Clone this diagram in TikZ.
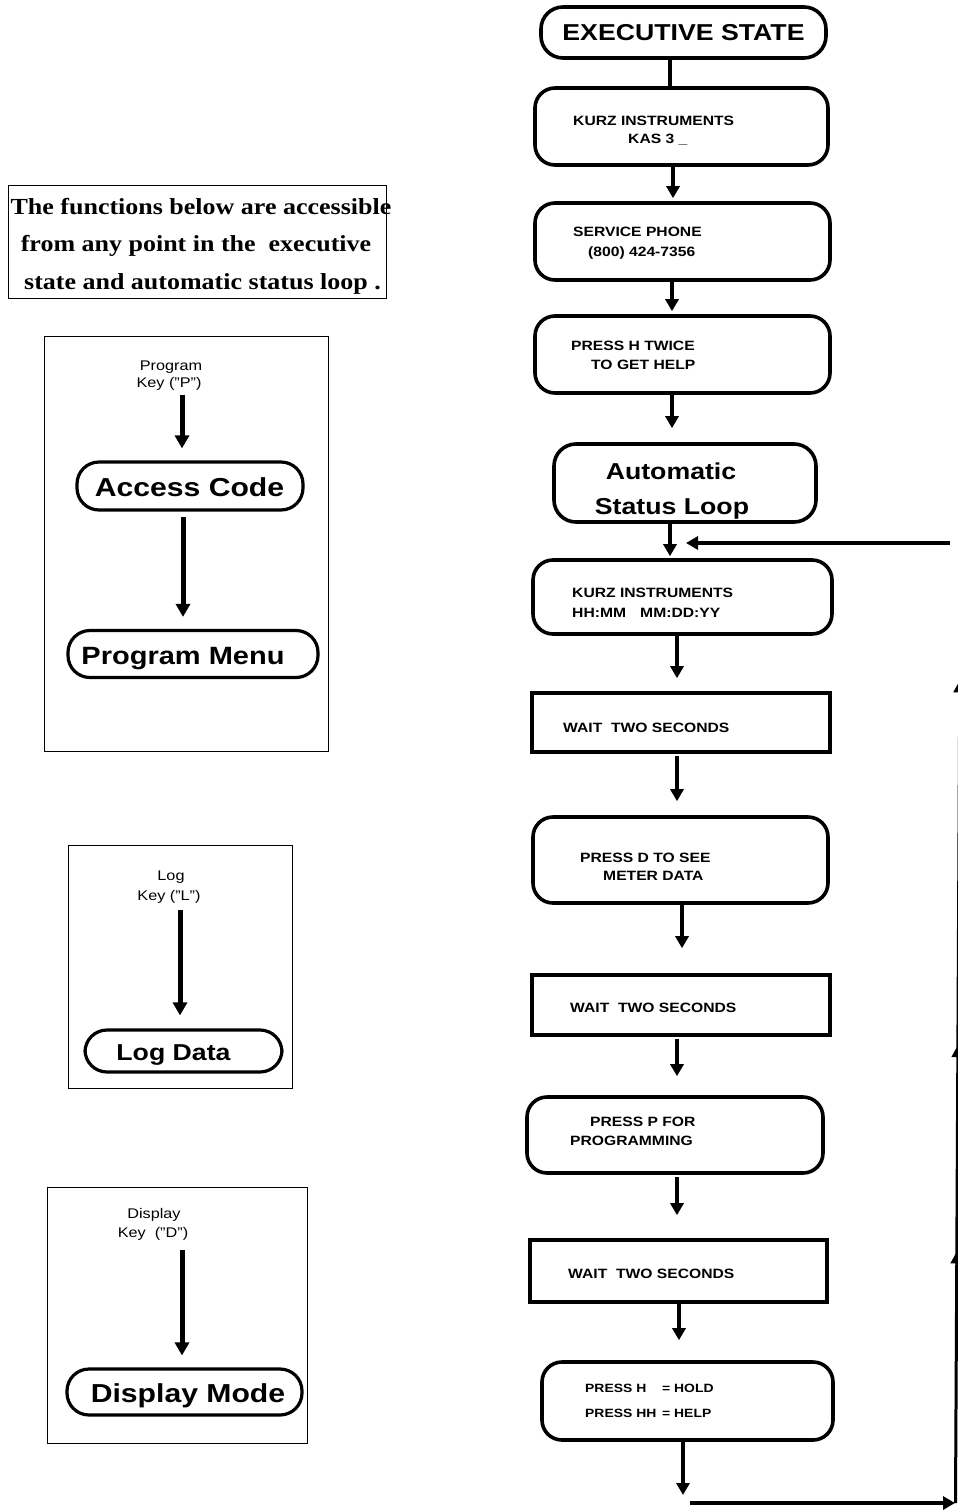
\documentclass[tikz,border=0pt]{standalone}
\usepackage{fontspec}
\setmainfont{Liberation Sans}[FakeStretch=1.16]
\newfontfamily\headfont{Liberation Serif}[FakeStretch=1.13]
\usetikzlibrary{arrows.meta,decorations.markings}
\begin{document}
\begin{tikzpicture}[x=1pt,y=-1pt,
  ovalbox/.style={draw,line width=3.6pt,rounded corners=22pt,inner sep=0pt},
  rbox/.style={draw,line width=3.6pt,rounded corners=20pt,inner sep=0pt},
  sbox/.style={draw,line width=3.6pt,inner sep=0pt},
  pill/.style={draw,line width=3.2pt,rounded corners=22pt,inner sep=0pt},
  frame/.style={draw,line width=0.8pt,inner sep=0pt},
  sm/.style={inner sep=0pt,anchor=base west,font=\fontsize{13.5}{16}\selectfont\bfseries},
  smh/.style={inner sep=0pt,anchor=base west,font=\fontsize{12}{15}\selectfont\bfseries},
  big/.style={inner sep=0pt,anchor=base,font=\fontsize{23}{26}\selectfont\bfseries},
  keylbl/.style={inner sep=0pt,anchor=base,font=\fontsize{14}{16}\selectfont},
  head/.style={inner sep=0pt,anchor=base,font=\headfont\fontsize{23}{26}\selectfont\bfseries},
  conn/.style={line width=4.5pt},
  arr/.style={line width=4.5pt,-{Triangle[width=13pt,length=12pt]}},
  larr/.style={line width=5pt,-{Triangle[width=14pt,length=13pt]}},
  loopline/.style={line width=3pt},
]
\useasboundingbox (0,0) rectangle (958,1510);

% ---------------- main column ----------------
\node[ovalbox,minimum width=285pt,minimum height=51pt,
      font=\fontsize{23}{26}\selectfont\bfseries] (exec) at (683.5,32.5) {EXECUTIVE STATE};

\node[rbox,minimum width=293pt,minimum height=77pt] (k1) at (681.5,126.5) {};
\node[sm] (k1a) at (573,125) {KURZ INSTRUMENTS};
\node[sm] (k1b) at (628,143) {KAS 3 \_};

\node[rbox,minimum width=295pt,minimum height=77pt] (svc) at (682.5,241.5) {};
\node[sm] (svca) at (573,236) {SERVICE PHONE};
\node[sm] (svcb) at (588,256) {(800) 424-7356};

\node[rbox,minimum width=295pt,minimum height=77pt] (tw) at (682.5,354.5) {};
\node[sm] (twa) at (571,350) {PRESS H TWICE};
\node[sm] (twb) at (591,369) {TO GET HELP};

\node[rbox,rounded corners=22pt,minimum width=262pt,minimum height=78pt] (auto) at (685,483) {};
\node[big] (auta) at (671,479) {Automatic};
\node[big] (autb) at (672,514) {Status Loop};

\node[rbox,minimum width=299pt,minimum height=74pt] (k2) at (682.5,597) {};
\node[sm] (k2a) at (572,597) {KURZ INSTRUMENTS};
\node[sm] (k2b) at (572,617) {HH:MM};
\node[sm] (k2c) at (640,617) {MM:DD:YY};

\node[sbox,minimum width=298pt,minimum height=59pt] (w1) at (681,722.5) {};
\node[sm] (w1t) at (563,732) {WAIT\ \ TWO SECONDS};

\node[rbox,minimum width=295pt,minimum height=86pt] (pd) at (680.5,860) {};
\node[sm] (pda) at (580,862) {PRESS D TO SEE};
\node[sm] (pdb) at (603,880) {METER DATA};

\node[sbox,minimum width=298pt,minimum height=60pt] (w2) at (681,1005) {};
\node[sm] (w2t) at (570,1012) {WAIT\ \ TWO SECONDS};

\node[rbox,minimum width=296pt,minimum height=76pt] (pp) at (675,1135) {};
\node[sm] (ppa) at (590,1126) {PRESS P FOR};
\node[sm] (ppb) at (570,1145) {PROGRAMMING};

\node[sbox,minimum width=297pt,minimum height=62pt] (w3) at (678.5,1271) {};
\node[sm] (w3t) at (568,1278) {WAIT\ \ TWO SECONDS};

\node[rbox,minimum width=291pt,minimum height=78pt] (ph) at (687.5,1401) {};
\node[smh] (pha) at (585,1392) {PRESS H};
\node[smh] (phb) at (662,1392) {= HOLD};
\node[smh] (phc) at (585,1417) {PRESS HH};
\node[smh] (phd) at (662,1417) {= HELP};

% connectors of the main column
\draw[conn] (exec.south -| 670,0) -- (k1.north -| 670,0);
\draw[arr,shorten >=3pt] (k1.south -| 673,0) -- (svc.north -| 673,0);
\draw[arr,shorten >=3pt] (svc.south -| 672,0) -- (tw.north -| 672,0);
\draw[arr,shorten >=14pt] (tw.south -| 672,0) -- (auto.north -| 672,0);
\draw[arr,shorten >=2pt] (auto.south -| 670,0) -- (k2.north -| 670,0);
\draw[arr,shorten >=13pt] (k2.south -| 677,0) -- (w1.north -| 677,0);
\draw[arr,shorten >=14pt,shorten <=2pt] (w1.south -| 677,0) -- (pd.north -| 677,0);
\draw[arr,shorten >=25pt] (pd.south -| 682,0) -- (w2.north -| 682,0);
\draw[arr,shorten >=19pt,shorten <=2pt] (w2.south -| 677,0) -- (pp.north -| 677,0);
\draw[arr,shorten >=23pt,shorten <=2pt] (pp.south -| 677,0) -- (w3.north -| 677,0);
\draw[arr,shorten >=20pt] (w3.south -| 679,0) -- (ph.north -| 679,0);

% return path of the loop
\coordinate (down) at (683,1495);
\coordinate (botl) at (690,1503);
\coordinate (botr) at (957,1503);
\coordinate (risebot) at (955.5,1503);
\coordinate (risetop) at (960.5,543);
\coordinate (retin) at (950,543);
\coordinate (retout) at (686,543);
\draw[arr] (ph.south -| 683,0) -- (down);
\draw[arr,line width=4pt,shorten >=2pt] (botl) -- (botr);
\draw[loopline,postaction={decorate},decoration={markings,
   mark=at position 0.262 with {\arrow{Triangle[width=12pt,length=12pt]}},
   mark=at position 0.477 with {\arrow{Triangle[width=12pt,length=12pt]}},
   mark=at position 0.857 with {\arrow{Triangle[width=12pt,length=12pt]}}}]
   (risebot) -- (risetop);
\draw[arr,line width=4pt] (retin) -- (retout);

% ---------------- left side ----------------
\node[frame,minimum width=378pt,minimum height=113pt] (note) at (197,241.5) {};
\node[head] (notea) at (201,214) {The functions below are accessible};
\node[head] (noteb) at (196,251) {from any point in the\ \ executive};
\node[head] (notec) at (202.5,289) {state and automatic status loop .};

% program key panel
\node[frame,minimum width=284pt,minimum height=415pt] (fp) at (186,543.5) {};
\node[keylbl] (pk1) at (171,370) {Program};
\node[keylbl] (pk2) at (169,387) {Key ("P")};
\node[pill,minimum width=226pt,minimum height=48pt] (acc) at (190,486) {};
\node[big,font=\fontsize{26}{28}\selectfont\bfseries] (acct) at (189.5,496) {Access Code};
\node[pill,minimum width=250pt,minimum height=47pt] (pm) at (193,654) {};
\node[big,font=\fontsize{25}{28}\selectfont\bfseries] (pmt) at (183,664) {Program Menu};
\draw[larr,shorten <=5pt,shorten >=12pt] (pk2.south -| 182,0) -- (acc.north -| 182,0);
\draw[larr,shorten <=5pt,shorten >=12pt] (acc.south -| 183,0) -- (pm.north -| 183,0);

% log key panel
\node[frame,minimum width=224pt,minimum height=243pt] (fl) at (180,966.5) {};
\node[keylbl] (lk1) at (171,880) {Log};
\node[keylbl] (lk2) at (169,900) {Key ("L")};
\node[pill,minimum width=197pt,minimum height=42pt] (ld) at (183.5,1051) {};
\node[big,font=\fontsize{23}{26}\selectfont\bfseries] (ldt) at (173.5,1060) {Log Data};
\draw[larr,shorten <=7pt,shorten >=13pt] (lk2.south -| 180,0) -- (ld.north -| 180,0);

% display key panel
\node[frame,minimum width=260pt,minimum height=256pt] (fd) at (177,1315) {};
\node[keylbl] (dk1) at (154,1218) {Display};
\node[keylbl] (dk2) at (153,1237) {Key\ \ ("D")};
\node[pill,minimum width=235pt,minimum height=46pt] (dm) at (184.5,1392) {};
\node[big,font=\fontsize{26}{28}\selectfont\bfseries] (dmt) at (188,1402) {Display Mode};
\draw[larr,shorten <=10pt,shorten >=12pt] (dk2.south -| 182,0) -- (dm.north -| 182,0);
\end{tikzpicture}
\end{document}
